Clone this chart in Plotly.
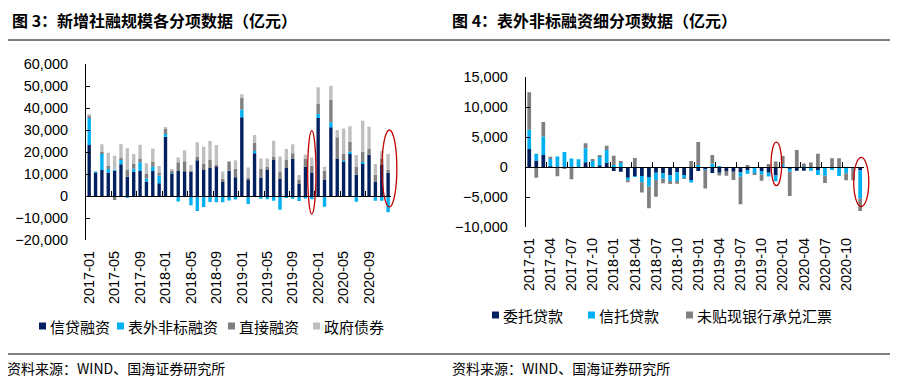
import plotly.graph_objects as go

# ---------------- data ----------------
months = [f"{y}-{m:02d}" for y in range(2017, 2021) for m in range(1, 13)]

# Figure 3 (亿元)
credit = [23200, 10600, 11800, 10600, 11500, 14400, 8800, 11050, 11400, 6600, 11400, 5800,
          26950, 10150, 11360, 11300, 11000, 16200, 11800, 12700, 13600, 6400, 11500, 8500,
          35800, 7300, 19400, 8300, 11800, 16400, 7700, 12700, 16970, 5400, 13300, 10500,
          35450, 7270, 31300, 16800, 15900, 19240, 9700, 14550, 18700, 6360, 14300, 10600]
offbal = [12450, 400, 7500, 1700, 200, 2200, -650, 1300, 3950, 1200, 1880, 3560,
          1220, 100, -2550, -100, -4250, -6860, -4950, -2700, -2840, -2790, -1990, -1600,
          3500, -3600, 1000, -1250, -1470, -2170, -6200, -950, -1200, -2300, -1100, -1470,
          1830, -4830, 2190, -40, 130, 870, -2650, 950, -50, -2200, -2200, -7350]
direct = [800, 0, 700, 1400, -1800, 700, 3000, 2200, 1700, 2200, 2250, 1300,
          2300, 1200, 4000, 4500, 200, 1500, 2700, 3800, 500, 1400, 4100, 3900,
          5200, 1000, 3800, 4250, 1500, 1600, 3400, 3700, 2430, 2150, 3500, 3100,
          4500, 4200, 10200, 9900, 3200, 4600, 3500, 4600, 2700, 3300, 2700, 1200]
govbond = [700, 300, 3500, 6000, 6600, 6300, 9900, 4500, 6300, 4900, 6100, 3000,
           600, 400, 2100, 5000, 2900, 6700, 7900, 8500, 9100, 3300, 300, 3800,
           1800, 4600, 3500, 4550, 3800, 7150, 6800, 4950, 4080, 2000, 2100, 3900,
           7650, 1850, 6400, 3300, 11500, 7000, 5450, 14050, 10100, 4900, 3400, 7300]

# Figure 4 (亿元)
entrusted = [3000, 1100, 2000, 100, 0, 0, 0, 0, 780, 0, 220, 670,
             -670, -780, -1800, -1500, -1500, -1660, -970, -1050, -1390, -890, -1330, -2150,
             -670, -450, -1000, -950, -670, -780, -900, -480, -50, -650, -950, -1400,
             0, -300, -640, -640, 0, -500, 0, -200, -100, -50, -100, -550]
trust = [3200, 1100, 3100, 1300, 1750, 2500, 1400, 1300, 2330, 1100, 1610, 2160,
         330, 780, -400, -100, -1050, -1600, -1200, -900, -950, -1450, -560, -450,
         330, -50, 550, 150, 0, 0, -730, -640, -1050, -550, -650, -970,
         450, -500, 0, 100, -620, -830, -1450, -300, -1400, -1000, -100, -4700]
bills = [6250, -1800, 2400, 300, -1550, -300, -2050, 0, 840, 100, 50, 730,
         1560, 100, -350, 1500, -1700, -3600, -2780, -750, -500, -450, -100, 1000,
         3840, -3100, 1450, -450, -800, -1390, -4570, 170, -100, -1100, 500, 900,
         1380, -4030, 2830, 500, 750, 2200, -1200, 1450, 1450, -1150, -2000, -2100]

left_names = ["信贷融资", "表外非标融资", "直接融资", "政府债券"]
right_names = ["委托贷款", "信托贷款", "未贴现银行承兑汇票"]
titles = ["图 3：新增社融规模各分项数据（亿元）", "图 4：表外非标融资细分项数据（亿元）"]
source = "资料来源：WIND、国海证券研究所"
highlight = ["2019-12", "2020-12"]

# ---------------- styling ----------------
NAVY, CYAN, GREY, LIGHT = "#002060", "#00B0F0", "#808080", "#BFBFBF"
RED = "#C00000"
W, H = 898, 384
OFF = 8  # page body margin offset of the figure inside the window
NUM_FONT = dict(family="Liberation Sans, Arial", size=14.5, color="#000000")
CJK = "Noto Sans CJK SC"


def fx(px):
    return (px - OFF) / W


def fy(py):
    return 1 - (py - OFF) / H


L_dx, L_dy, L_rng = [fx(86), fx(391.3)], [fy(240), fy(64)], [-20000, 60000]
R_dx, R_dy, R_rng = [fx(525.7), fx(863.7)], [fy(227), fy(77)], [-10000, 15000]
n = len(months)


def zero_pos(dy, rng):
    return dy[0] + (dy[1] - dy[0]) * (0 - rng[0]) / (rng[1] - rng[0])


fig = go.Figure()
for name, vals, col in zip(left_names, [credit, offbal, direct, govbond], [NAVY, CYAN, GREY, LIGHT]):
    fig.add_bar(x=months, y=vals, name=name, marker_color=col, marker_line_width=0,
                xaxis="x", yaxis="y", showlegend=False)
for name, vals, col in zip(right_names, [entrusted, trust, bills], [NAVY, CYAN, GREY]):
    fig.add_bar(x=months, y=vals, name=name, marker_color=col, marker_line_width=0,
                xaxis="x2", yaxis="y2", showlegend=False)
# empty traces so the zero-crossing tick axes get drawn
fig.add_scatter(x=[], y=[], xaxis="x3", yaxis="y", showlegend=False, hoverinfo="skip")
fig.add_scatter(x=[], y=[], xaxis="x4", yaxis="y2", showlegend=False, hoverinfo="skip")


def label_axis(dom, anchor, step):
    return dict(domain=dom, anchor=anchor, type="category", range=[-0.5, n - 0.5],
                tickmode="array", tickvals=months[::step], ticktext=months[::step],
                tickangle=-90, ticks="", showline=False, showgrid=False, zeroline=False,
                tickfont=NUM_FONT, ticklabelstandoff=7, automargin=False)


def value_axis(dom, anchor, rng, dtick):
    return dict(domain=dom, anchor=anchor, range=rng, dtick=dtick, tickformat=",",
                ticks="inside", ticklen=4, tickcolor="#000", showline=True, linecolor="#000",
                linewidth=1, showgrid=False, zeroline=False, tickfont=NUM_FONT,
                ticklabelstandoff=14, automargin=False)


def tick_axis(dom, over, pos, step):
    return dict(domain=dom, overlaying=over, anchor="free", position=pos, type="linear",
                range=[-0.5, n - 0.5], tickmode="array",
                tickvals=[k - 0.5 for k in range(step, n + 1, step)],
                ticks="inside", ticklen=5, tickcolor="#000", showticklabels=False,
                showline=True, linecolor="#000", linewidth=1, showgrid=False, zeroline=False,
                automargin=False)


shapes = []
annotations = []


def paper_x(dx, idx):
    return dx[0] + (dx[1] - dx[0]) * (idx + 0.5) / n


def paper_y(dy, rng, v):
    return dy[0] + (dy[1] - dy[0]) * (v - rng[0]) / (rng[1] - rng[0])


# highlight ellipses (category centre offset, half width in categories, value span)
ell = [
    (L_dx, L_dy, L_rng, months.index(highlight[0]) + 0.0, 0.65, -8200, 29700),
    (L_dx, L_dy, L_rng, months.index(highlight[1]) + 0.2, 1.17, -4900, 30000),
    (R_dx, R_dy, R_rng, months.index(highlight[0]) + 0.1, 0.76, -3100, 4150),
    (R_dx, R_dy, R_rng, months.index(highlight[1]) + 0.15, 1.07, -6600, 1600),
]
for dx, dy, rng, c, hw, v0, v1 in ell:
    shapes.append(dict(type="circle", xref="paper", yref="paper",
                       x0=paper_x(dx, c - hw), x1=paper_x(dx, c + hw),
                       y0=paper_y(dy, rng, v0), y1=paper_y(dy, rng, v1),
                       line=dict(color=RED, width=1.3)))

# frame lines
for yy in (40, 354):
    shapes.append(dict(type="line", xref="paper", yref="paper", x0=fx(8), x1=fx(893),
                       y0=fy(yy), y1=fy(yy), line=dict(color="#000", width=1)))

# titles and sources
for x0, t in zip([10, 450], titles):
    annotations.append(dict(text=t, xref="paper", yref="paper", x=fx(x0), y=fy(20),
                            xanchor="left", yanchor="middle", showarrow=False,
                            font=dict(family=CJK, size=16, color="#000", weight="bold")))
for x0 in (5, 450):
    annotations.append(dict(text=source, xref="paper", yref="paper", x=fx(x0), y=fy(368),
                            xanchor="left", yanchor="middle", showarrow=False,
                            font=dict(family=CJK, size=14, color="#000")))

# legends (square + text)
leg_font = dict(family=CJK, size=15, color="#000")
left_leg = [(39, left_names[0], NAVY), (117, left_names[1], CYAN), (228, left_names[2], GREY),
            (313, left_names[3], LIGHT)]
right_leg = [(492, right_names[0], NAVY), (588, right_names[1], CYAN), (686, right_names[2], GREY)]
for items, yy in ((left_leg, 326), (right_leg, 315)):
    for x0, t, col in items:
        shapes.append(dict(type="rect", xref="paper", yref="paper", x0=fx(x0), x1=fx(x0 + 7),
                           y0=fy(yy + 3.5), y1=fy(yy - 3.5), fillcolor=col, line=dict(width=0)))
        annotations.append(dict(text=t, xref="paper", yref="paper", x=fx(x0 + 9), y=fy(yy),
                                xanchor="left", yanchor="middle", showarrow=False, font=leg_font))

fig.update_layout(
    template="none",
    width=W, height=H, autosize=False, margin=dict(l=0, r=0, t=0, b=0, pad=0),
    paper_bgcolor="white", plot_bgcolor="white", barmode="relative", bargap=0.47,
    showlegend=False,
    xaxis=label_axis(L_dx, "y", 4),
    yaxis=value_axis(L_dy, "x", L_rng, 10000),
    xaxis2=label_axis(R_dx, "y2", 3),
    yaxis2=value_axis(R_dy, "x2", R_rng, 5000),
    xaxis3=tick_axis(L_dx, "x", zero_pos(L_dy, L_rng), 4),
    xaxis4=tick_axis(R_dx, "x2", zero_pos(R_dy, R_rng), 3),
    shapes=shapes, annotations=annotations,
)

fig.write_html("out.html")
